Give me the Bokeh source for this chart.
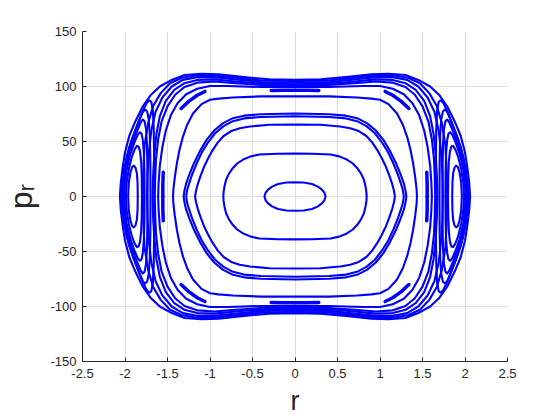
from bokeh.plotting import figure
from bokeh.models import Range1d, FixedTicker
from bokeh.embed import file_html
from bokeh.resources import INLINE

# ---------------- data ----------------
# Invariant curves around the centre: first-quadrant arcs from (0, p_top) to (r_cross, 0)
c1_r = [0, 0.10, 0.20, 0.27, 0.32, 0.345, 0.36]
c1_p = [13, 12.7, 11.3, 9, 6, 3.5, 0]
c2_r = [0, 0.20, 0.42, 0.52, 0.61, 0.68, 0.73, 0.775, 0.81, 0.83, 0.84, 0.843]
c2_p = [39, 38.8, 38.2, 36.5, 33.6, 30, 26, 21, 15.5, 9, 4, 0]
c3_r = [0, 0.30, 0.53, 0.65, 0.75, 0.84, 0.91, 0.97, 1.02, 1.07, 1.11, 1.145, 1.165, 1.175]
c3_p = [65.5, 65.2, 63.6, 62, 59.5, 55, 49, 42, 35, 27, 19, 11, 5, 0]
c4a_r = [0, 0.40, 0.60, 0.73, 0.84, 0.94, 1.02, 1.10, 1.16, 1.21, 1.245, 1.27, 1.28]
c4a_p = [73, 72.3, 71, 68.5, 64, 57.5, 49.5, 39.5, 29.5, 20, 12, 5.5, 0]
c4b_r = [0, 0.40, 0.60, 0.73, 0.85, 0.95, 1.04, 1.12, 1.19, 1.24, 1.28, 1.30, 1.31]
c4b_p = [75.5, 74.8, 73.5, 71.2, 66.5, 60, 51.5, 41, 30, 20.5, 12, 5.5, 0]
c5_r = [0, 0.40, 0.73, 0.90, 1.00, 1.10, 1.20, 1.27, 1.32, 1.36, 1.39, 1.415, 1.43, 1.435]
c5_p = [91, 91, 90, 89, 88, 84, 75.5, 65, 54, 42, 30, 17, 7, 0]
c6_r = [0, 0.40, 0.80, 1.00, 1.15, 1.28, 1.38, 1.46, 1.52, 1.56, 1.59, 1.605, 1.61]
c6_p = [99.5, 99.5, 100.5, 100.5, 98, 93, 85, 74, 60, 45, 28, 12, 0]
b1_r = [0, 0.40, 0.70, 0.95, 1.15, 1.30, 1.41, 1.50, 1.57, 1.61, 1.635, 1.645, 1.65]
b1_p = [101, 101.5, 103, 104.5, 103.5, 99.5, 92.5, 82, 68, 52, 34, 16, 0]
b2_r = [0, 0.40, 0.70, 0.95, 1.15, 1.30, 1.42, 1.52, 1.59, 1.63, 1.655, 1.67, 1.675]
b2_p = [102, 102.5, 104.5, 106.5, 106, 103, 97, 87, 73, 57, 38, 18, 0]
b3_r = [0, 0.40, 0.70, 0.95, 1.15, 1.32, 1.45, 1.56, 1.64, 1.69, 1.72, 1.735, 1.74]
b3_p = [103.5, 104, 106.5, 108.5, 108.5, 106, 100, 90, 77, 60, 40, 20, 0]
b4_r = [0, 0.40, 0.70, 0.95, 1.15, 1.33, 1.47, 1.58, 1.67, 1.73, 1.77, 1.785, 1.79]
b4_p = [105, 105.5, 108, 110, 110.2, 108, 103, 94, 82, 66, 46, 22, 0]
out_r = [0, 0.30, 0.60, 0.90, 1.10, 1.30, 1.45, 1.59, 1.70, 1.79, 1.88, 1.95, 2.00, 2.03, 2.05, 2.06]
out_p = [106, 106.5, 108.5, 111, 111.5, 110.5, 106, 100, 92, 82, 68, 55, 40, 25, 12, 0]

# Islands near r = +/-2: upper halves from inner crossing over the tip to outer crossing
t1_r = [1.85, 1.852, 1.86, 1.875, 1.895, 1.915, 1.935, 1.955, 1.963]
t1_p = [0, 12, 21, 26, 28, 27, 22, 13, 0]
t2_r = [1.80, 1.803, 1.81, 1.823, 1.84, 1.86, 1.885, 1.92, 1.955, 1.98, 1.99]
t2_p = [0, 18, 32, 41, 45.5, 46, 43, 36, 25, 13, 0]
t3_r = [1.77, 1.772, 1.778, 1.79, 1.805, 1.825, 1.85, 1.89, 1.94, 1.985, 2.01]
t3_p = [0, 22, 40, 51, 57, 58.5, 56, 49, 38, 23, 0]
t4_r = [1.735, 1.737, 1.742, 1.752, 1.77, 1.79, 1.815, 1.86, 1.92, 1.98, 2.025]
t4_p = [0, 28, 48, 61, 68.5, 70, 67.5, 59, 47, 30, 0]
t5_r = [1.70, 1.702, 1.708, 1.72, 1.74, 1.765, 1.79, 1.84, 1.91, 1.98, 2.04]
t5_p = [0, 32, 56, 70, 77.5, 79, 77, 68, 54, 36, 0]
t6_r = [1.655, 1.657, 1.662, 1.672, 1.69, 1.715, 1.745, 1.80, 1.87, 1.95, 2.01, 2.05]
t6_p = [0, 35, 62, 78, 86, 87.5, 85, 76, 62, 45, 25, 0]

# Island chain pieces (first quadrant)
d_top_r = [0, 0.14, 0.28]
d_top_p = [96.5, 96.5, 96.3]
d_diag_r = [1.06, 1.15, 1.25, 1.34]
d_diag_p = [95.5, 92, 86.5, 80]
d_side_r = [1.555, 1.555, 1.55]
d_side_p = [0, 11, 22]

x_ticks = [-2.5, -2, -1.5, -1, -0.5, 0, 0.5, 1, 1.5, 2, 2.5]
x_tick_labels = ["-2.5", "-2", "-1.5", "-1", "-0.5", "0", "0.5", "1", "1.5", "2", "2.5"]
y_ticks = [-150, -100, -50, 0, 50, 100, 150]
y_tick_labels = ["-150", "-100", "-50", "0", "50", "100", "150"]

# ---------------- build closed curves by the section's symmetry ----------------
def full_loop(rs, ps):
    q = list(zip(rs, ps))
    q4 = [(r, -p) for r, p in reversed(q)]
    q3 = [(-r, -p) for r, p in q]
    q2 = [(-r, p) for r, p in reversed(q)]
    pts = q + q4[1:] + q3[1:] + q2[1:]
    return [a for a, b in pts], [b for a, b in pts]

def island_loops(rs, ps):
    u = list(zip(rs, ps))
    right = u + [(r, -p) for r, p in reversed(u)][1:]
    left = [(-r, p) for r, p in right]
    return [([a for a, b in right], [b for a, b in right]),
            ([a for a, b in left], [b for a, b in left])]

def four_way(rs, ps):
    out = []
    for sr, sp in [(1, 1), (1, -1), (-1, -1), (-1, 1)]:
        out.append(([sr * r for r in rs], [sp * p for p in ps]))
    return out

curves = [(c1_r, c1_p), (c2_r, c2_p), (c3_r, c3_p), (c4a_r, c4a_p), (c4b_r, c4b_p),
          (c5_r, c5_p), (c6_r, c6_p), (b1_r, b1_p), (b2_r, b2_p), (b3_r, b3_p),
          (b4_r, b4_p), (out_r, out_p)]
xs, ys = [], []
for rs, ps in curves:
    a, b = full_loop(rs, ps)
    xs.append(a); ys.append(b)
for rs, ps in [(t1_r, t1_p), (t2_r, t2_p), (t3_r, t3_p), (t4_r, t4_p),
               (t5_r, t5_p), (t6_r, t6_p)]:
    for a, b in island_loops(rs, ps):
        xs.append(a); ys.append(b)

dxs, dys = [], []
for rs, ps in [(d_top_r, d_top_p), (d_diag_r, d_diag_p), (d_side_r, d_side_p)]:
    for a, b in four_way(rs, ps):
        dxs.append(a); dys.append(b)

# ---------------- figure ----------------
BLUE = "#0000ff"
TXT = "#262626"
FONT = "Liberation Sans"

p = figure(frame_width=425, frame_height=330,
           x_range=Range1d(-2.5, 2.5), y_range=Range1d(-150, 150),
           output_backend="svg", toolbar_location=None,
           min_border_left=81, min_border_top=31, min_border_right=30,
           min_border_bottom=40)
p.outline_line_color = None
p.background_fill_color = "white"
p.border_fill_color = "white"

p.multi_line(xs=xs, ys=ys, line_color=BLUE, line_width=2.1, line_join="round")
p.multi_line(xs=dxs, ys=dys, line_color=BLUE, line_width=3.5, line_cap="round")

p.xaxis.ticker = FixedTicker(ticks=x_ticks)
p.yaxis.ticker = FixedTicker(ticks=y_ticks)
p.xaxis.major_label_overrides = {t: l for t, l in zip(x_ticks, x_tick_labels)}
p.yaxis.major_label_overrides = {t: l for t, l in zip(y_ticks, y_tick_labels)}
for ax in (p.xaxis[0], p.yaxis[0]):
    ax.axis_line_color = TXT
    ax.major_tick_line_color = TXT
    ax.major_tick_in = 4
    ax.major_tick_out = 0
    ax.minor_tick_line_color = None
    ax.major_label_text_font = FONT
    ax.major_label_text_font_size = "13px"
    ax.major_label_text_color = TXT
    ax.axis_label_text_font = FONT
    ax.axis_label_text_font_style = "normal"
    ax.axis_label_text_color = TXT
p.xaxis.major_label_standoff = 7
p.yaxis.major_label_standoff = 6

p.xaxis.axis_label = "r"
p.xaxis.axis_label_text_font_size = "27px"
p.xaxis.axis_label_standoff = 5
p.yaxis.axis_label = "p\u1d63"
p.yaxis.axis_label_text_font_size = "32px"
p.yaxis.axis_label_standoff = 8

p.xgrid.grid_line_color = "#dedede"
p.ygrid.grid_line_color = "#dedede"

open("out.html", "w").write(file_html(p, INLINE))
